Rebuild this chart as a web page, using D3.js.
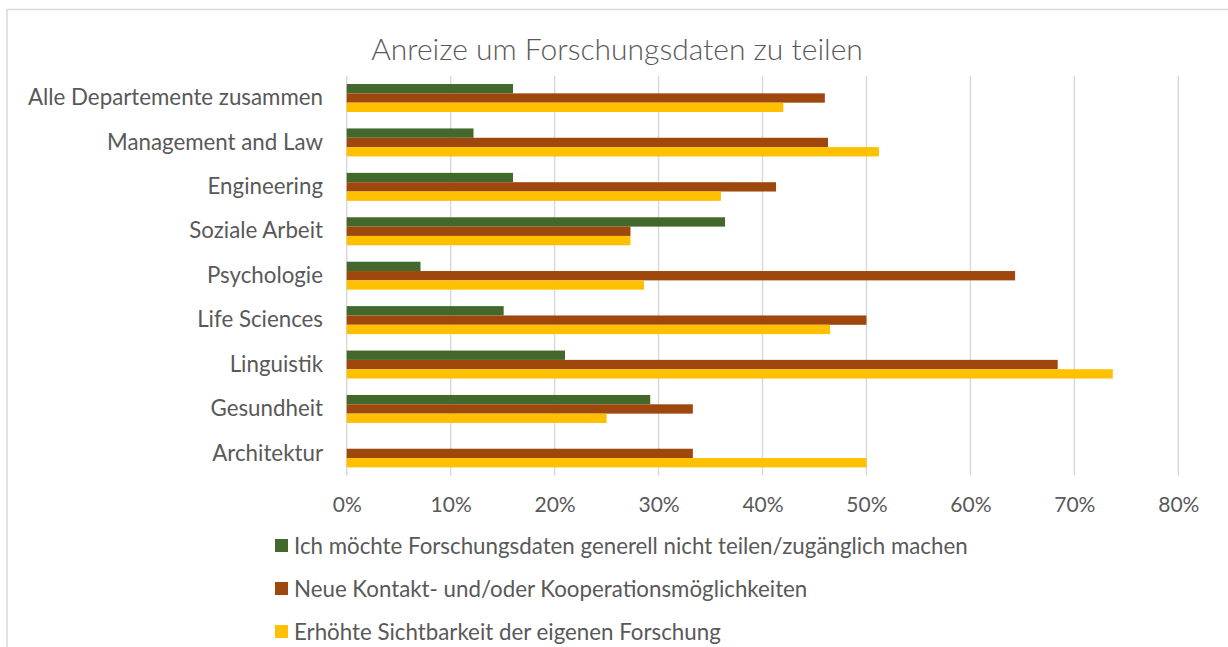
<!DOCTYPE html>
<html>
<head>
<meta charset="utf-8">
<script src="https://cdn.jsdelivr.net/npm/d3@7"></script>
<style>
  html, body { margin: 0; padding: 0; background: #fff; }
  svg { display: block; font-family: Lato, "Open Sans", sans-serif; }
</style>
</head>
<body>
<svg id="chart" width="1228" height="647"></svg>
<script>
const title = "Anreize um Forschungsdaten zu teilen";
const categories = ["Alle Departemente zusammen", "Management and Law", "Engineering", "Soziale Arbeit", "Psychologie", "Life Sciences", "Linguistik", "Gesundheit", "Architektur"];
const seriesNames = ["Ich möchte Forschungsdaten generell nicht teilen/zugänglich machen", "Neue Kontakt- und/oder Kooperationsmöglichkeiten", "Erhöhte Sichtbarkeit der eigenen Forschung"];
const seriesColors = ["#43682b", "#9e480e", "#ffc000"];
const notShare   = [0.160, 0.122, 0.160, 0.364, 0.071, 0.151, 0.210, 0.292, 0.000];
const contact    = [0.460, 0.463, 0.413, 0.273, 0.643, 0.500, 0.684, 0.333, 0.333];
const visibility = [0.420, 0.512, 0.360, 0.273, 0.286, 0.465, 0.737, 0.250, 0.500];
const seriesValues = [notShare, contact, visibility];
const xTicks = [0, 0.1, 0.2, 0.3, 0.4, 0.5, 0.6, 0.7, 0.8];

const svg = d3.select("#chart");
const textColor = "#595959";

// outer chart border (top and left visible)
svg.append("path")
  .attr("d", "M7,647 V9.5 H1228")
  .attr("fill", "none").attr("stroke", "#d9d9d9").attr("stroke-width", 1.5);

const x = d3.scaleLinear().domain([0, 0.8]).range([346.7, 1178.3]);
const y = d3.scaleBand().domain(categories).range([75.8, 475.6]).paddingInner(0.37).paddingOuter(0.185);
const ySub = d3.scaleBand().domain(d3.range(seriesNames.length)).range([0, y.bandwidth()]);

// gridlines
svg.append("g").selectAll("line").data(xTicks).join("line")
  .attr("x1", d => x(d)).attr("x2", d => x(d))
  .attr("y1", 75.8).attr("y2", 475.6)
  .attr("stroke", "#d9d9d9").attr("stroke-width", 1.5);

// bars
const groups = svg.append("g").selectAll("g").data(categories).join("g")
  .attr("transform", c => `translate(0,${y(c)})`);
groups.selectAll("rect")
  .data((c, i) => seriesValues.map((vals, s) => ({ s, v: vals[i] })))
  .join("rect")
  .filter(d => d.v > 0)
  .attr("x", x(0))
  .attr("y", d => ySub(d.s))
  .attr("width", d => x(d.v) - x(0))
  .attr("height", ySub.bandwidth())
  .attr("fill", d => seriesColors[d.s]);

// category labels
const yAxis = d3.axisLeft(y).tickSize(0).tickPadding(0);
const gy = svg.append("g").attr("transform", `translate(323,0)`).call(yAxis);
gy.select(".domain").remove();
gy.selectAll("text").attr("fill", textColor).style("font-size", "22.3px").style("font-family", "Lato, sans-serif");

// x axis tick labels
const xAxis = d3.axisBottom(x).tickValues(xTicks).tickFormat(d3.format(".0%")).tickSize(0).tickPadding(0);
const gx = svg.append("g").attr("transform", `translate(0,497)`).call(xAxis);
gx.select(".domain").remove();
gx.selectAll("text").attr("fill", textColor).style("font-size", "21px").style("font-family", "Lato, sans-serif");

// title
svg.append("text").attr("x", 617).attr("y", 60).attr("text-anchor", "middle")
  .attr("fill", textColor).style("font-size", "30px").style("font-weight", 300)
  .text(title);

// legend
const legend = svg.append("g").selectAll("g").data(seriesNames).join("g")
  .attr("transform", (d, i) => `translate(275,${546 + i * 43})`);
legend.append("rect").attr("x", 0).attr("y", -7).attr("width", 13).attr("height", 13)
  .attr("fill", (d, i) => seriesColors[i]);
legend.append("text").attr("x", 19).attr("y", 0).attr("dy", "0.35em")
  .attr("fill", textColor).style("font-size", "22.3px").text(d => d);
</script>
</body>
</html>
